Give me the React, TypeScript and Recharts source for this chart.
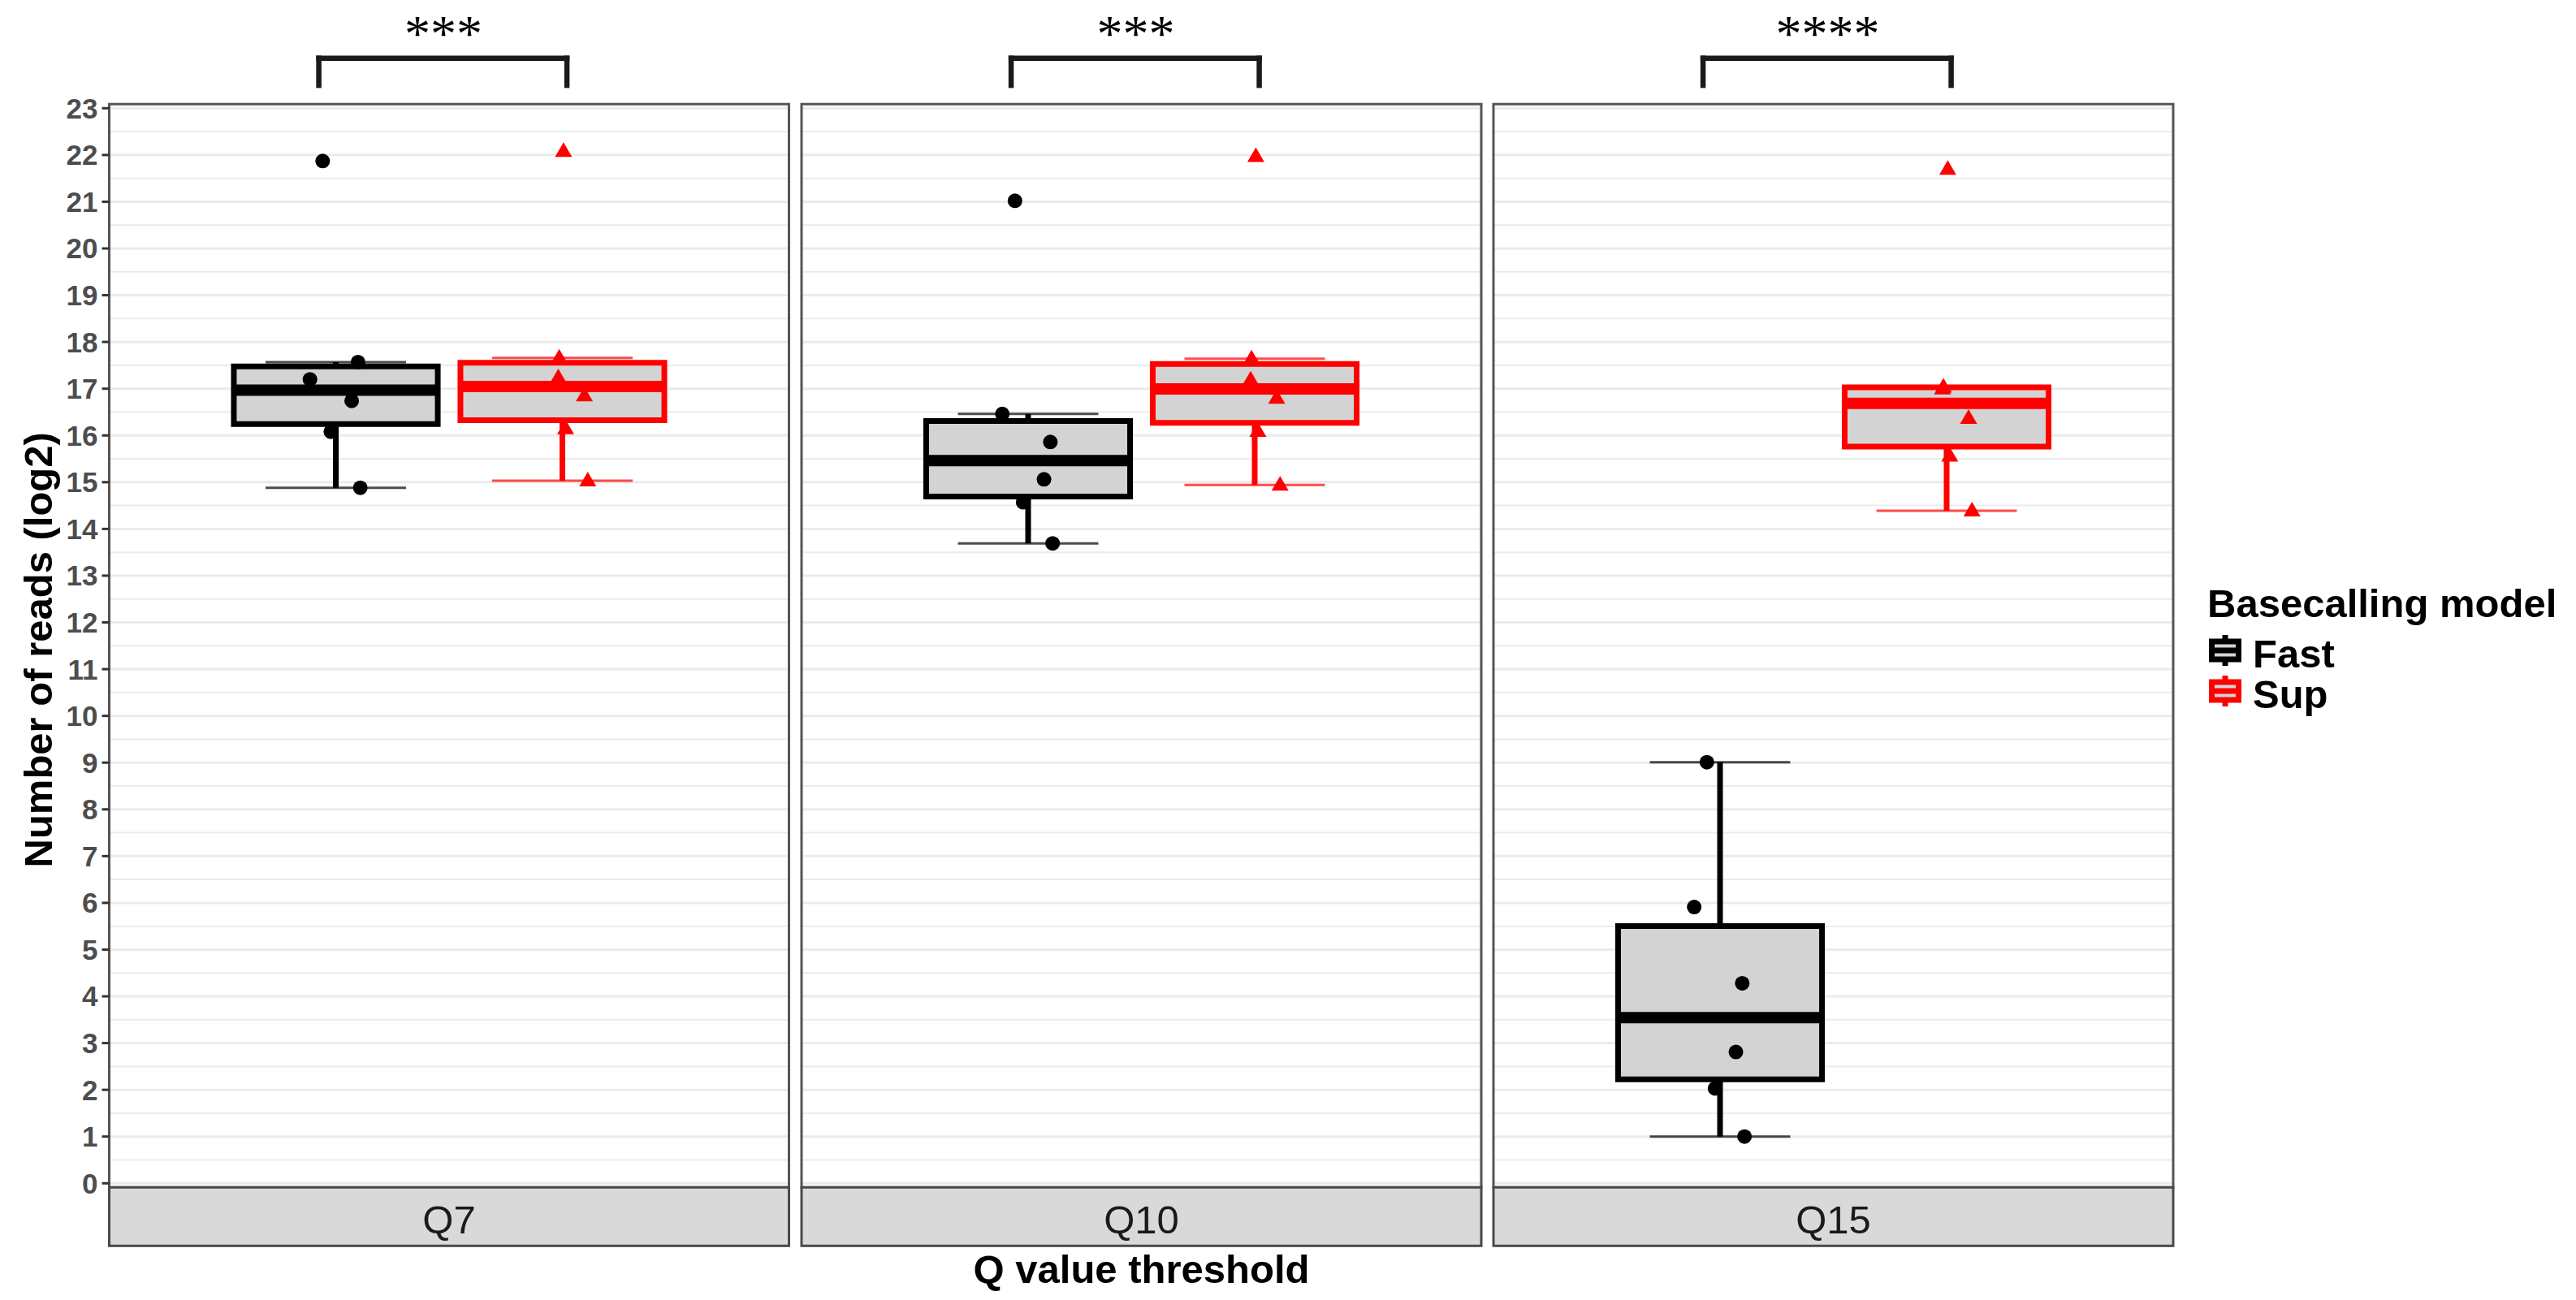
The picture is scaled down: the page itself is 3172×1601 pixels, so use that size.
import React from 'react';
import {
  ComposedChart,
  Scatter,
  XAxis,
  YAxis,
  CartesianGrid,
  ReferenceArea,
  ReferenceLine,
  ReferenceDot,
  Legend,
} from 'recharts';

// facets and groups
const panels = ['Q7', 'Q10', 'Q15'];
const models = ['Fast', 'Sup'];
const modelColors = ['#000000', '#ff0000'];
const significance = ['***', '***', '****'];

// log2 read counts per sample (6 samples)
const fastReads = [
  [21.87, 17.2, 17.57, 16.74, 16.08, 14.88],
  [21.02, 16.46, 15.86, 15.06, 14.57, 13.69],
  [9.01, 5.91, 4.28, 2.81, 2.03, 1.0],
];
const supReads = [
  [22.08, 17.66, 17.24, 16.85, 16.15, 15.03],
  [21.97, 17.64, 17.19, 16.8, 16.09, 14.94],
  [21.7, 17.04, 17.0, 16.37, 15.56, 14.39],
];
// horizontal jitter of each sample (same per panel in the figure)
const fastJitter = [-0.058, -0.114, 0.098, 0.07, -0.022, 0.108];
const supJitter = [0.005, -0.014, -0.018, 0.097, 0.014, 0.112];

const yTicks = [0, 1, 2, 3, 4, 5, 6, 7, 8, 9, 10, 11, 12, 13, 14, 15, 16, 17, 18, 19, 20, 21, 22, 23];
const yMinor = yTicks.slice(1).map((t) => t - 0.5);

const FONT = '"Liberation Sans", Arial, Helvetica, sans-serif';
const SERIF = '"Liberation Serif", "Times New Roman", serif';

const W = 3172;
const H = 1601;
const PANEL_W = 837;
const PANEL_STEP = 852;
const FIRST_LEFT = 134.5;
const GUTTER = 7;
const PLOT_TOP = 128.3;
const PLOT_BOTTOM = 1462.3;
const STRIP_H = 72;
const Y_DOMAIN: [number, number] = [-0.087, 23.087];
const X_DOMAIN: [number, number] = [0, 3];
const BOX_HALF = 0.45;
const CAP_HALF = 0.31;
const BOX_FILL = '#d3d3d3';
const BRACKET = { from: 0.925, to: 2.02, top: 24.07, tip: 23.49, textX: 1.475, textY: 24.61 };

function quantile(sorted: number[], p: number) {
  const h = (sorted.length - 1) * p;
  const lo = Math.floor(h);
  const hi = Math.min(lo + 1, sorted.length - 1);
  return sorted[lo] + (h - lo) * (sorted[hi] - sorted[lo]);
}

function boxStats(values: number[]) {
  const s = [...values].sort((a, b) => a - b);
  const q1 = quantile(s, 0.25);
  const med = quantile(s, 0.5);
  const q3 = quantile(s, 0.75);
  const iqr = q3 - q1;
  const lo = Math.min(...s.filter((v) => v >= q1 - 1.5 * iqr));
  const hi = Math.max(...s.filter((v) => v <= q3 + 1.5 * iqr));
  return { q1, med, q3, lo, hi };
}

const DotShape = (p: any) => <circle cx={p.cx} cy={p.cy} r={9} fill="#000000" />;
const TriShape = (p: any) => (
  <path
    d={`M${p.cx},${p.cy - 11}L${p.cx + 10.5},${p.cy + 7}L${p.cx - 10.5},${p.cy + 7}Z`}
    fill="#ff0000"
  />
);

function StripTick(props: any) {
  const { x, y, label } = props;
  return (
    <g>
      <rect x={x - PANEL_W / 2} y={y} width={PANEL_W} height={STRIP_H} fill="#d9d9d9" stroke="#4a4a4a" strokeWidth={3} />
      <text x={x} y={y + 57} textAnchor="middle" fontSize={49} fill="#1a1a1a" fontFamily={FONT}>
        {label}
      </text>
    </g>
  );
}

function YTitle(props: any) {
  const vb = props.viewBox || { x: 0, y: PLOT_TOP, height: PLOT_BOTTOM - PLOT_TOP };
  const cy = vb.y + vb.height / 2 + 5;
  return (
    <text
      transform={`translate(${vb.x + 64}, ${cy}) rotate(-90)`}
      textAnchor="middle"
      fontSize={49}
      fontWeight={700}
      fill="#000000"
      fontFamily={FONT}
    >
      Number of reads (log2)
    </text>
  );
}

function XTitle(props: any) {
  const vb = props.viewBox;
  return (
    <text
      x={vb.x + vb.width / 2}
      y={vb.y + vb.height + 46}
      textAnchor="middle"
      fontSize={49}
      fontWeight={700}
      fill="#000000"
      fontFamily={FONT}
    >
      Q value threshold
    </text>
  );
}

function KeyGlyph({ color }: { color: string }) {
  return (
    <g>
      <line x1={20} x2={20} y1={0} y2={38} stroke={color} strokeWidth={7} />
      <rect x={3.5} y={8} width={33} height={22} fill={BOX_FILL} stroke={color} strokeWidth={7} />
      <line x1={3.5} x2={36.5} y1={19} y2={19} stroke={color} strokeWidth={7} />
    </g>
  );
}

function LegendBox() {
  return (
    <svg width={460} height={190} style={{ display: 'block' }}>
      <text x={2} y={60} fontSize={49} fontWeight={700} fill="#000000" fontFamily={FONT}>
        Basecalling model
      </text>
      {models.map((m, i) => (
        <g key={m} transform={`translate(4, ${82 + i * 50})`}>
          <KeyGlyph color={modelColors[i]} />
          <text x={54} y={40} fontSize={49} fontWeight={700} fill="#000000" fontFamily={FONT}>
            {m}
          </text>
        </g>
      ))}
    </svg>
  );
}

function Facet({ index }: { index: number }) {
  const panelLeft = FIRST_LEFT + index * PANEL_STEP;
  const yAxisW = index === 0 ? FIRST_LEFT : 0;
  const marginLeft = index === 0 ? 0 : GUTTER;
  const marginRight = index === 2 ? W - (panelLeft + PANEL_W) : GUTTER;
  const left = panelLeft - yAxisW - marginLeft;
  const width = yAxisW + marginLeft + PANEL_W + marginRight;

  const groups = [fastReads[index], supReads[index]].map((vals, g) => {
    const jitter = g === 0 ? fastJitter : supJitter;
    return {
      name: models[g],
      color: modelColors[g],
      center: g + 1,
      stats: boxStats(vals),
      points: vals.map((v, k) => ({ x: g + 1 + jitter[k], y: v })),
    };
  });

  return (
    <div style={{ position: 'absolute', left, top: 0 }}>
      <ComposedChart
        width={width}
        height={H}
        margin={{ top: PLOT_TOP, right: marginRight, bottom: H - PLOT_BOTTOM - STRIP_H, left: marginLeft }}
      >
        <CartesianGrid horizontalValues={yMinor} vertical={false} stroke="#ebebeb" strokeWidth={2} />
        <CartesianGrid horizontalValues={yTicks} vertical={false} stroke="#ebebeb" strokeWidth={3} />
        <XAxis
          type="number"
          dataKey="x"
          domain={X_DOMAIN}
          allowDataOverflow
          ticks={[1.5]}
          interval={0}
          height={STRIP_H}
          axisLine={false}
          tickLine={false}
          tickSize={0}
          tickMargin={0}
          tick={(p: any) => <StripTick {...p} label={panels[index]} />}
          label={index === 1 ? <XTitle /> : undefined}
        />
        <YAxis
          type="number"
          dataKey="y"
          domain={Y_DOMAIN}
          allowDataOverflow
          ticks={yTicks}
          interval={0}
          width={yAxisW}
          hide={index !== 0}
          axisLine={false}
          tickLine={{ stroke: '#333333', strokeWidth: 3 }}
          tickSize={9}
          tickMargin={5}
          tick={{ fontSize: 35, fontWeight: 700, fill: '#4d4d4d', fontFamily: FONT }}
          label={index === 0 ? <YTitle /> : undefined}
        />

        {groups.flatMap((g) => {
          const c = g.center;
          const s = g.stats;
          return [
            <ReferenceLine key={`${g.name}-wu`} segment={[{ x: c, y: s.q3 }, { x: c, y: s.hi }]} stroke={g.color} strokeWidth={7} ifOverflow="visible" />,
            <ReferenceLine key={`${g.name}-wl`} segment={[{ x: c, y: s.lo }, { x: c, y: s.q1 }]} stroke={g.color} strokeWidth={7} ifOverflow="visible" />,
            <ReferenceLine key={`${g.name}-cu`} segment={[{ x: c - CAP_HALF, y: s.hi }, { x: c + CAP_HALF, y: s.hi }]} stroke={g.color} strokeOpacity={0.7} strokeWidth={3} ifOverflow="visible" />,
            <ReferenceLine key={`${g.name}-cl`} segment={[{ x: c - CAP_HALF, y: s.lo }, { x: c + CAP_HALF, y: s.lo }]} stroke={g.color} strokeOpacity={0.7} strokeWidth={3} ifOverflow="visible" />,
            <ReferenceArea key={`${g.name}-box`} x1={c - BOX_HALF} x2={c + BOX_HALF} y1={s.q1} y2={s.q3} fill={BOX_FILL} fillOpacity={1} stroke={g.color} strokeWidth={7} ifOverflow="visible" />,
            <ReferenceLine key={`${g.name}-med`} segment={[{ x: c - BOX_HALF, y: s.med }, { x: c + BOX_HALF, y: s.med }]} stroke={g.color} strokeWidth={14} ifOverflow="visible" />,
          ];
        })}

        {groups.map((g, gi) => (
          <Scatter
            key={`${g.name}-pts`}
            name={g.name}
            data={g.points}
            dataKey="y"
            fill={g.color}
            shape={gi === 0 ? DotShape : TriShape}
            isAnimationActive={false}
          />
        ))}

        <ReferenceArea x1={X_DOMAIN[0]} x2={X_DOMAIN[1]} y1={Y_DOMAIN[0]} y2={Y_DOMAIN[1]} fill="none" stroke="#555555" strokeWidth={3} ifOverflow="visible" />

        {/* significance bracket above the panel */}
        <ReferenceLine segment={[{ x: BRACKET.from, y: BRACKET.top }, { x: BRACKET.to, y: BRACKET.top }]} stroke="#1a1a1a" strokeWidth={6.5} strokeLinecap="square" ifOverflow="visible" />
        <ReferenceLine segment={[{ x: BRACKET.from, y: BRACKET.tip }, { x: BRACKET.from, y: BRACKET.top }]} stroke="#1a1a1a" strokeWidth={6.5} strokeLinecap="square" ifOverflow="visible" />
        <ReferenceLine segment={[{ x: BRACKET.to, y: BRACKET.tip }, { x: BRACKET.to, y: BRACKET.top }]} stroke="#1a1a1a" strokeWidth={6.5} strokeLinecap="square" ifOverflow="visible" />
        <ReferenceDot
          x={BRACKET.textX}
          y={BRACKET.textY}
          r={0}
          fill="none"
          stroke="none"
          ifOverflow="visible"
          label={{ value: significance[index], position: 'center', fontSize: 64, fontFamily: SERIF, fill: '#000000' }}
        />

        {index === 2 && (
          <Legend
            layout="vertical"
            align="center"
            verticalAlign="middle"
            wrapperStyle={{ left: 2716 - left, top: 700, width: 460 }}
            content={() => <LegendBox />}
          />
        )}
      </ComposedChart>
    </div>
  );
}

export default function App() {
  return (
    <div style={{ position: 'absolute', left: 0, top: 0, width: W, height: H, background: '#ffffff', overflow: 'hidden' }}>
      {panels.map((p, i) => (
        <Facet key={p} index={i} />
      ))}
    </div>
  );
}
